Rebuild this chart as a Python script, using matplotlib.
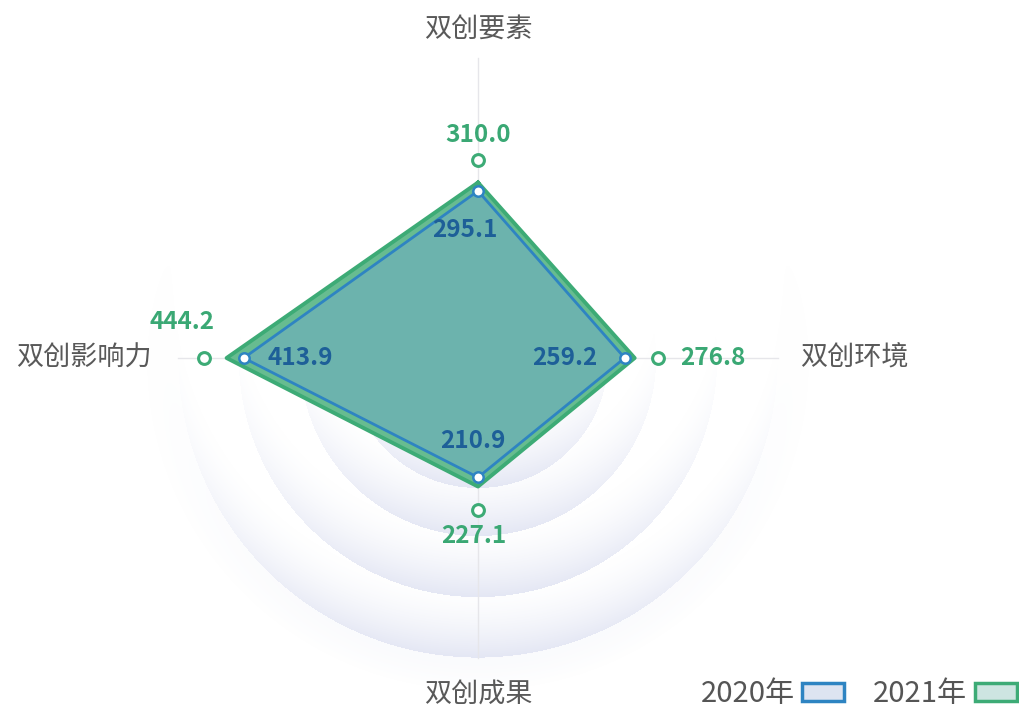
import numpy as np
import matplotlib.pyplot as plt
import matplotlib.transforms as mtransforms
from matplotlib.patches import Patch

plt.rcParams['font.family'] = ['Noto Sans CJK SC', 'DejaVu Sans']

# data
categories = ['双创要素', '双创环境', '双创成果', '双创影响力']
values_2020 = [295.1, 259.2, 210.9, 413.9]
values_2021 = [310.0, 276.8, 227.1, 444.2]
series_names = ['2020年', '2021年']

# layout (pixels) / scale
W, H = 1019, 712
cx, cy = 478, 358          # radar centre, px from top-left
R_MAX = 530                # value at outer ring
S = 300 / R_MAX            # px per value unit
rings = [230, 315, 423, 530]

c20_line, c20_fill = '#2e84c2', '#6cb3ad'
c21_line, c21_fill = '#3dab76', '#67bc90'
c20_text, c21_text = '#1d5f98', '#3aa874'

fig = plt.figure(figsize=(W / 100, H / 100), dpi=100)
ax = fig.add_axes([0, 0, 1, 1])
x0, x1 = -cx / S, (W - cx) / S
y0, y1 = -(H - cy) / S, cy / S

# background rings with soft shadow at the bottom
xs = np.linspace(x0, x1, W)
ys = np.linspace(y0, y1, H)
X, Y = np.meshgrid(xs, ys)
D = np.hypot(X, Y)
delta = 125
E = np.hypot(X, Y - delta)
I = np.zeros_like(D)
done = np.zeros(D.shape, dtype=bool)
for r in rings:
    m = (D <= r) & ~done
    t = np.clip((E - r) / delta, 0, 1) ** 1.6
    I[m] = t[m]
    done |= m
# faint glow outside the outer ring
out = ~done
g = np.clip(1 - (D - rings[-1]) / 60, 0, 1) * np.clip((E - rings[-1]) / (2 * delta), 0, 1)
I[out] = 0.35 * g[out]
rgba = np.zeros(D.shape + (4,))
rgba[..., 0] = 198 / 255
rgba[..., 1] = 204 / 255
rgba[..., 2] = 232 / 255
rgba[..., 3] = I * 0.48
ax.imshow(rgba, extent=(x0, x1, y0, y1), origin='lower', zorder=0,
          interpolation='bilinear')

angles = np.deg2rad([0, 90, 180, 270])
dirs = [(np.sin(a), np.cos(a)) for a in angles]

# axis lines
for dx, dy in dirs:
    ax.plot([0, R_MAX * dx], [0, R_MAX * dy], color='#e6e6ea', lw=1, zorder=1)

def xy(vals):
    px = [v * d[0] for v, d in zip(vals, dirs)]
    py = [v * d[1] for v, d in zip(vals, dirs)]
    return px, py

x21, y21 = xy(values_2021)
x20, y20 = xy(values_2020)

ax.fill(x21, y21, color=c21_fill, zorder=2)
ax.plot(x21 + x21[:1], y21 + y21[:1], color=c21_line, lw=2.8, zorder=3,
        solid_joinstyle='round')
ax.fill(x20, y20, color=c20_fill, zorder=4)
ax.plot(x20 + x20[:1], y20 + y20[:1], color=c20_line, lw=2.0, zorder=5,
        solid_joinstyle='round')
ax.plot(x20, y20, 'o', ms=7.5, mfc='white', mec=c20_line, mew=1.8, zorder=6)

# 2021 markers sit a little outside the vertex
for (px, py), (dx, dy) in zip(zip(x21, y21), dirs):
    tr = mtransforms.offset_copy(ax.transData, fig=fig, x=23 * dx, y=23 * dy,
                                 units='dots')
    ax.plot(px, py, 'o', ms=8.5, mfc='white', mec=c21_line, mew=2.2,
            transform=tr, zorder=6)

# value labels
off21 = [((0, 48), 'center'), ((46, 0), 'left'), ((-4, -49), 'center'), ((-45, 36), 'center')]
off20 = [((-13, -39), 'center'), ((-27, 0), 'right'), ((-5, 36), 'center'), ((24, 0), 'left')]
for v, px, py, (o, ha) in zip(values_2021, x21, y21, off21):
    ax.annotate(f'{v:.1f}', (px, py), xytext=o, textcoords='offset pixels',
                ha=ha, va='center', color=c21_text, fontsize=17.5,
                fontweight='bold', zorder=7)
for v, px, py, (o, ha) in zip(values_2020, x20, y20, off20):
    ax.annotate(f'{v:.1f}', (px, py), xytext=o, textcoords='offset pixels',
                ha=ha, va='center', color=c20_text, fontsize=17.5,
                fontweight='bold', zorder=7)

# category labels
lab_kw = dict(color='#595959', fontsize=19.5, va='center', zorder=7)
ax.text(0, (cy - 30) / S, categories[0], ha='center', **lab_kw)
ax.text((800 - cx) / S, 0, categories[1], ha='left', **lab_kw)
ax.text(0, -(695 - cy) / S, categories[2], ha='center', **lab_kw)
ax.text(-(cx - 152) / S, 0, categories[3], ha='right', **lab_kw)

handles = [Patch(fc='#dde4f1', ec=c20_line, lw=2.5),
           Patch(fc='#cde5e1', ec=c21_line, lw=2.5)]
leg = ax.legend(handles, series_names, ncol=2, markerfirst=False,
                loc='lower right', bbox_to_anchor=(0.998, 0.004),
                frameon=False, fontsize=21, handlelength=1.45,
                handleheight=0.6, handletextpad=0.25, columnspacing=1.0,
                borderaxespad=0, borderpad=0)
for t in leg.get_texts():
    t.set_color('#555555')

ax.set_xlim(x0, x1)
ax.set_ylim(y0, y1)
ax.set_aspect('auto')
ax.axis('off')

fig.savefig('out.png', dpi=100)
